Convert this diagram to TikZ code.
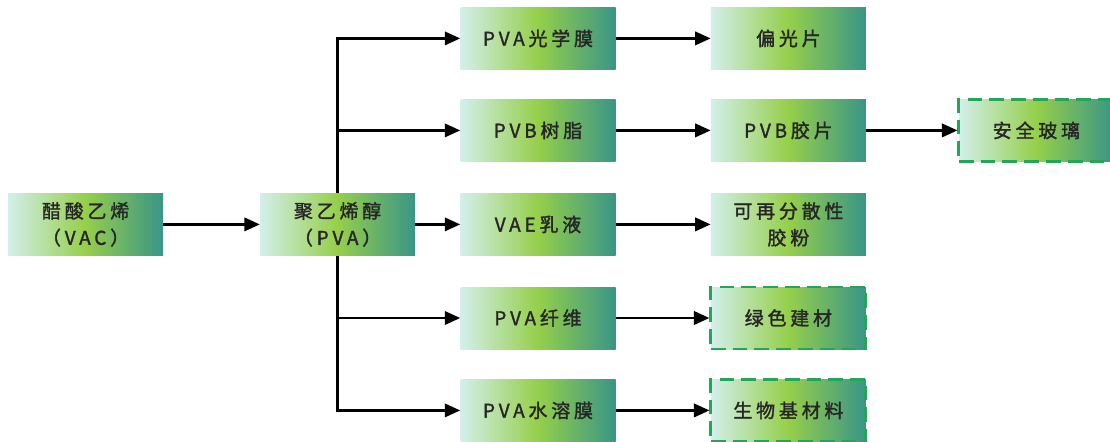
\documentclass[tikz,border=0pt]{standalone}
\usepackage{fontspec}
\newfontfamily\cjk[LetterSpace=20, FakeBold=1.6]{Noto Sans CJK SC}
\usetikzlibrary{arrows.meta}

\definecolor{mint}{HTML}{D3EFEA}
\definecolor{leaf}{HTML}{95CF4A}
\definecolor{sea}{HTML}{3A9586}
\definecolor{dashgreen}{HTML}{22A65A}

\begin{document}
\begin{tikzpicture}[
    block/.style={rectangle, minimum width=3.875cm, minimum height=1.55cm, inner sep=0pt,
        left color=mint, right color=sea, middle color=leaf,
        align=center, text=black!85, font=\cjk\fontsize{13.5}{19}\selectfont},
    final/.style={block, draw=dashgreen, line width=2.1pt, dash pattern=on 10.5pt off 5pt},
    link/.style={-{Triangle[length=11pt,width=9.5pt]}, line width=1.8pt}]
    \useasboundingbox (0,0) rectangle (27.75,-11.025);

    \node[block] (vac) at (2.14,-5.61) {醋酸乙烯\\（VAC）};
    \node[block] (pva) at (8.44,-5.61) {聚乙烯醇\\（PVA）};

    \node[block] (film)   at (13.45,-0.96)  {PVA光学膜};
    \node[block] (pvb)    at (13.45,-3.26)  {PVB树脂};
    \node[block] (vae)    at (13.45,-5.61)  {VAE乳液};
    \node[block] (fiber)  at (13.45,-7.95)  {PVA纤维};
    \node[block] (sol)    at (13.45,-10.26) {PVA水溶膜};

    \node[block] (polar)  at (19.71,-0.96)  {偏光片};
    \node[block] (sheet)  at (19.71,-3.26)  {PVB胶片};
    \node[block] (powder) at (19.71,-5.61)  {可再分散性\\胶粉};
    \node[final] (build)  at (19.71,-7.95)  {绿色建材};
    \node[final] (bio)    at (19.71,-10.26) {生物基材料};

    \node[final] (glass)  at (25.91,-3.26)  {安全玻璃};

    \draw[link] (vac) -- (pva);

    \draw[link] (pva.north) |- (film.west);
    \draw[link] (pva.north) |- (pvb.west);
    \draw[link] (pva) -- (vae);
    \draw[link] (pva.south) |- (fiber.west);
    \draw[link] (pva.south) |- (sol.west);

    \draw[link] (film) -- (polar);
    \draw[link] (pvb) -- (sheet);
    \draw[link] (vae) -- (powder);
    \draw[link] (fiber) -- (build);
    \draw[link] (sol) -- (bio);

    \draw[link] (sheet) -- (glass);
\end{tikzpicture}
\end{document}
